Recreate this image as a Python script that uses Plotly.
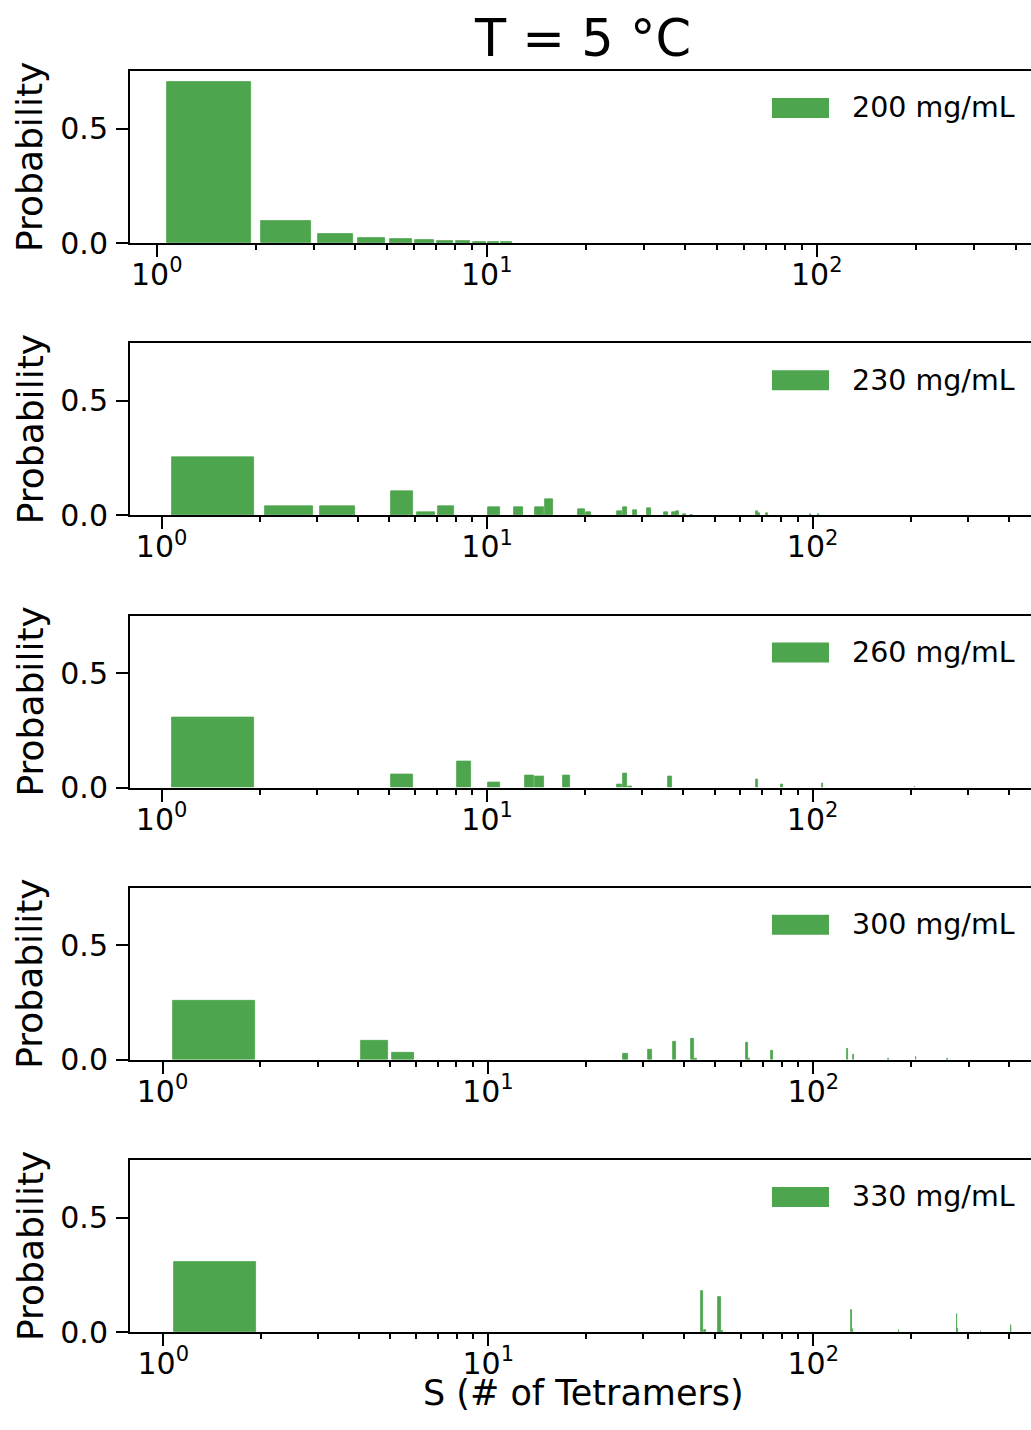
import plotly.graph_objects as go

# ---- data (bin start S, probability) ----
concentrations = ["200 mg/mL", "230 mg/mL", "260 mg/mL", "300 mg/mL", "330 mg/mL"]

s_200 = [1, 2, 3, 4, 5, 6, 7, 8, 9, 10, 11]
p_200 = [0.704, 0.096, 0.039, 0.022, 0.017, 0.013, 0.009, 0.009, 0.005, 0.004, 0.004]

s_230 = [1, 2, 3, 5, 6, 7, 10, 12, 14, 15, 19, 20, 25, 26, 28, 31, 35, 37, 38, 40, 42, 67, 68, 72, 98, 104]
p_230 = [0.254, 0.039, 0.039, 0.105, 0.013, 0.039, 0.035, 0.035, 0.035, 0.070, 0.026, 0.013,
         0.017, 0.035, 0.022, 0.031, 0.013, 0.013, 0.017, 0.003, 0.002, 0.017, 0.009, 0.009, 0.005, 0.005]

s_260 = [1, 5, 8, 10, 13, 14, 17, 25, 26, 27, 36, 67, 80, 107, 206]
p_260 = [0.306, 0.057, 0.114, 0.022, 0.052, 0.048, 0.052, 0.013, 0.061, 0.003, 0.048, 0.035, 0.013, 0.017, 0.004]

s_300 = [1, 4, 5, 26, 31, 37, 42, 43, 62, 63, 74, 127, 132, 170, 206, 258]
p_300 = [0.258, 0.083, 0.031, 0.026, 0.044, 0.079, 0.092, 0.003, 0.074, 0.003, 0.039, 0.048, 0.022, 0.003, 0.013, 0.003]

s_330 = [1, 45, 46, 51, 52, 131, 132, 183, 276, 277, 327, 405, 406]
p_330 = [0.306, 0.179, 0.009, 0.153, 0.004, 0.096, 0.013, 0.009, 0.079, 0.013, 0.004, 0.031, 0.017]

series_s = [s_200, s_230, s_260, s_300, s_330]
series_p = [p_200, p_230, p_260, p_300, p_330]

# x ranges (log10) per panel
x_ranges = [[-0.081, 2.649], [-0.097, 2.671], [-0.097, 2.671], [-0.100, 2.669], [-0.1025, 2.670]]

major_vals = [1, 10, 100]
major_text = ["10<sup>0</sup>", "10<sup>1</sup>", "10<sup>2</sup>"]
minor_vals = [2, 3, 4, 5, 6, 7, 8, 9, 20, 30, 40, 50, 60, 70, 80, 90, 200, 300, 400]

BAR_COLOR = "#4da64d"   # matplotlib 'green' at alpha 0.7 over white
FONT = "DejaVu Sans"

W, H = 1031, 1430
mt, mb, ml, mr = 71, 98, 130, 0
plot_h = H - mt - mb
panel_h = 172
step = 272.25

fig = go.Figure()

for i in range(5):
    xa = "x" if i == 0 else f"x{i+1}"
    ya = "y" if i == 0 else f"y{i+1}"
    bottom_px = 243 + i * step
    d0 = (H - mb - bottom_px) / plot_h
    d1 = d0 + panel_h / plot_h
    centers = [s + 0.5 for s in series_s[i]]
    fig.add_trace(go.Bar(
        x=centers, y=series_p[i], width=[0.85] * len(centers),
        marker=dict(color=BAR_COLOR, line=dict(width=0.8, color=BAR_COLOR)),
        xaxis=xa, yaxis=ya, showlegend=False, name=concentrations[i],
    ))
    xkey = "xaxis" if i == 0 else f"xaxis{i+1}"
    ykey = "yaxis" if i == 0 else f"yaxis{i+1}"
    fig.layout[xkey] = dict(
        type="log", range=x_ranges[i], anchor=ya, domain=[0, 1],
        showline=True, linecolor="black", linewidth=2, mirror=True,
        tickmode="array", tickvals=major_vals, ticktext=major_text,
        ticks="outside", ticklen=12, tickwidth=2, tickcolor="black",
        ticklabelstandoff=-8,
        minor=dict(tickmode="array", tickvals=minor_vals, ticks="outside",
                   ticklen=5, tickwidth=1.5, tickcolor="black", showgrid=False),
        showgrid=False, zeroline=False,
        tickfont=dict(family=FONT, size=30, color="black"),
    )
    fig.layout[ykey] = dict(
        range=[0, 0.752], anchor=xa, domain=[d0, d1],
        showline=True, linecolor="black", linewidth=2, mirror=False,
        tickmode="array", tickvals=[0, 0.5], ticktext=["0.0", "0.5"],
        ticks="outside", ticklen=12, tickwidth=2, tickcolor="black",
        ticklabelstandoff=2,
        showgrid=False, zeroline=False,
        tickfont=dict(family=FONT, size=30, color="black"),
    )
    # y label
    fig.add_annotation(
        text="Probability", textangle=-90, showarrow=False,
        xref="paper", yref=f"{ya} domain", x=(30 - ml) / (W - ml - mr), y=0.5,
        xanchor="center", yanchor="middle",
        font=dict(family=FONT, size=36, color="black"),
    )
    # legend patch + text
    fig.add_shape(
        type="rect", xref=f"{xa} domain", yref=f"{ya} domain",
        x0=0.7125, x1=0.7758, y0=0.727, y1=0.843,
        fillcolor=BAR_COLOR, line=dict(width=0),
    )
    fig.add_annotation(
        text=concentrations[i], showarrow=False,
        xref=f"{xa} domain", yref=f"{ya} domain", x=0.7995, y=0.785,
        xanchor="left", yanchor="middle",
        font=dict(family=FONT, size=28.5, color="black"),
    )

# x label
fig.add_annotation(
    text="S (# of Tetramers)", showarrow=False,
    xref="paper", yref="paper", x=(583 - ml) / (W - ml - mr), y=(H - mb - 1393) / plot_h,
    xanchor="center", yanchor="middle",
    font=dict(family=FONT, size=35, color="black"),
)

fig.update_layout(
    width=W, height=H,
    margin=dict(t=mt, b=mb, l=ml, r=mr, pad=0),
    paper_bgcolor="white", plot_bgcolor="white",
    title=dict(text="T = 5 °C", x=583 / W, xref="container", xanchor="center",
               y=1 - 38 / H, yref="container", yanchor="middle",
               font=dict(family=FONT, size=51, color="black")),
    showlegend=False,
    bargap=0,
)

fig.write_html("out.html")
